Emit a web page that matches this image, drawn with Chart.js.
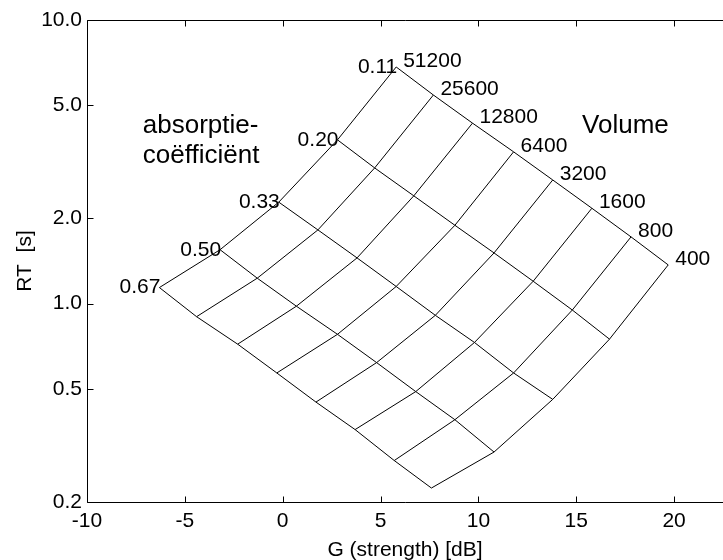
<!DOCTYPE html>
<html>
<head>
<meta charset="utf-8">
<script src="https://cdn.jsdelivr.net/npm/chart.js@4.4.0/dist/chart.umd.min.js"></script>
<style>
    body { margin: 0; background: #fff; }
</style>
</head>
<body>
<canvas id="chart" width="723" height="560"></canvas>
<script>

/* grid labels */
const volumes = ['51200', '25600', '12800', '6400', '3200', '1600', '800', '400'];
const absorption = ['0.11', '0.20', '0.33', '0.50', '0.67'];

/* G (strength) in dB, one array per absorption coefficient, ordered by volume */
const strength011 = [5.8, 7.7, 9.7, 11.8, 13.8, 15.8, 17.8, 19.7];
const strength020 = [2.8, 4.7, 6.7, 8.8, 10.8, 12.8, 14.8, 16.7];
const strength033 = [-0.2, 1.8, 3.8, 5.8, 7.8, 9.8, 11.8, 13.8];
const strength050 = [-3.2, -1.3, 0.7, 2.8, 4.8, 6.8, 8.8, 10.8];
const strength067 = [-6.3, -4.4, -2.3, -0.3, 1.7, 3.7, 5.7, 7.6];

/* RT in seconds, same layout */
const reverb011 = [6.83, 5.44, 4.33, 3.43, 2.73, 2.17, 1.72, 1.37];
const reverb020 = [3.78, 3.01, 2.40, 1.89, 1.51, 1.20, 0.95, 0.75];
const reverb033 = [2.28, 1.82, 1.45, 1.15, 0.91, 0.73, 0.57, 0.46];
const reverb050 = [1.55, 1.23, 0.98, 0.78, 0.62, 0.49, 0.39, 0.30];
const reverb067 = [1.14, 0.90, 0.72, 0.57, 0.45, 0.36, 0.28, 0.224];

/* axis ticks */
const xTicks = [-10, -5, 0, 5, 10, 15, 20];
const yTicks = [0.2, 0.5, 1, 2, 5, 10];
const yTickLabels = ['0.2', '0.5', '1.0', '2.0', '5.0', '10.0'];

const FONT = 'Liberation Sans, Arial, Helvetica, sans-serif';

const strengthRows = [strength011, strength020, strength033, strength050, strength067];
const reverbRows = [reverb011, reverb020, reverb033, reverb050, reverb067];

function lineSet(points) {
    return {
        data: points,
        showLine: true,
        borderColor: '#000',
        borderWidth: 1,
        pointRadius: 0,
        fill: false,
        tension: 0,
    };
}

const datasets = [];

// lines of constant absorption
strengthRows.forEach(function(g, i) {
    datasets.push(lineSet(g.map(function(x, j) {
        return {x: x, y: reverbRows[i][j]};
    })));
});

// lines of constant volume
volumes.forEach(function(v, j) {
    datasets.push(lineSet(strengthRows.map(function(g, i) {
        return {x: g[j], y: reverbRows[i][j]};
    })));
});


/* Frame, inward ticks and the grid labels */
const decorations = {
    id: 'decorations',
    afterDraw: function(chart) {
        const ctx = chart.ctx;
        const area = chart.chartArea;
        const xs = chart.scales.x;
        const ys = chart.scales.y;
        const tick = 6;

        ctx.save();
        ctx.strokeStyle = '#000';
        ctx.lineWidth = 1;
        ctx.beginPath();
        const left = Math.round(area.left) + 0.5;
        const top = Math.round(area.top) + 0.5;
        const bottom = Math.round(area.bottom) + 0.5;
        ctx.moveTo(chart.width, top);
        ctx.lineTo(left, top);
        ctx.lineTo(left, bottom);
        ctx.lineTo(chart.width, bottom);

        xTicks.forEach(function(v) {
            const px = Math.round(xs.getPixelForValue(v)) + 0.5;
            ctx.moveTo(px, bottom);
            ctx.lineTo(px, bottom - tick);
            ctx.moveTo(px, top);
            ctx.lineTo(px, top + tick);
        });
        yTicks.forEach(function(v) {
            const py = Math.round(ys.getPixelForValue(v)) + 0.5;
            ctx.moveTo(left, py);
            ctx.lineTo(left + tick, py);
        });
        ctx.stroke();

        ctx.fillStyle = '#000';
        ctx.font = '21px ' + FONT;

        // absorption labels along the largest volume
        ctx.textAlign = 'right';
        ctx.textBaseline = 'middle';
        absorption.forEach(function(label, i) {
            const px = xs.getPixelForValue(strengthRows[i][0]);
            const py = ys.getPixelForValue(reverbRows[i][0]);
            ctx.fillText(label, px + 1, py);
        });

        // volume labels along the lowest absorption
        ctx.textAlign = 'left';
        ctx.textBaseline = 'alphabetic';
        volumes.forEach(function(label, j) {
            const px = xs.getPixelForValue(strength011[j]);
            const py = ys.getPixelForValue(reverb011[j]);
            ctx.fillText(label, px + 7, py);
        });

        // captions
        ctx.font = '26px ' + FONT;
        const ax = xs.getPixelForValue(-7.15);
        const ay = ys.getPixelForValue(4.0);
        ctx.fillText('absorptie-', ax, ay);
        ctx.fillText('coëfficiënt', ax, ay + 30);
        ctx.fillText('Volume', xs.getPixelForValue(15.3), ys.getPixelForValue(4.0));

        ctx.restore();
    }
};


new Chart(document.getElementById('chart'), {
    type: 'scatter',
    data: {datasets: datasets},
    plugins: [decorations],
    options: {
        responsive: false,
        animation: false,
        layout: {
            padding: {top: 20, right: 0, bottom: 0, left: 0}
        },
        plugins: {
            legend: {display: false},
            tooltip: {enabled: false}
        },
        scales: {
            x: {
                type: 'linear',
                min: -10,
                max: 22.5,
                grid: {display: false, drawTicks: false},
                border: {display: false},
                afterBuildTicks: function(scale) {
                    scale.ticks = xTicks.map(function(v) { return {value: v}; });
                },
                afterFit: function(scale) {
                    scale.height = 58;
                },
                ticks: {
                    autoSkip: false,
                    maxRotation: 0,
                    padding: 7,
                    color: '#000',
                    font: {family: FONT, size: 21},
                },
                title: {
                    display: true,
                    text: 'G (strength) [dB]',
                    color: '#000',
                    font: {family: FONT, size: 21},
                    padding: {top: 0, bottom: -3}
                }
            },
            y: {
                type: 'logarithmic',
                min: 0.2,
                max: 10,
                grid: {display: false, drawTicks: false},
                border: {display: false},
                afterBuildTicks: function(scale) {
                    scale.ticks = yTicks.map(function(v) { return {value: v}; });
                },
                afterFit: function(scale) {
                    scale.width = 87;
                },
                ticks: {
                    autoSkip: false,
                    padding: 5,
                    color: '#000',
                    font: {family: FONT, size: 21},
                    callback: function(value) {
                        return yTickLabels[yTicks.indexOf(value)];
                    }
                },
                title: {
                    display: true,
                    text: 'RT  [s]',
                    color: '#000',
                    font: {family: FONT, size: 21},
                    padding: {top: 13, bottom: 0}
                }
            }
        }
    }
});
</script>
</body>
</html>
